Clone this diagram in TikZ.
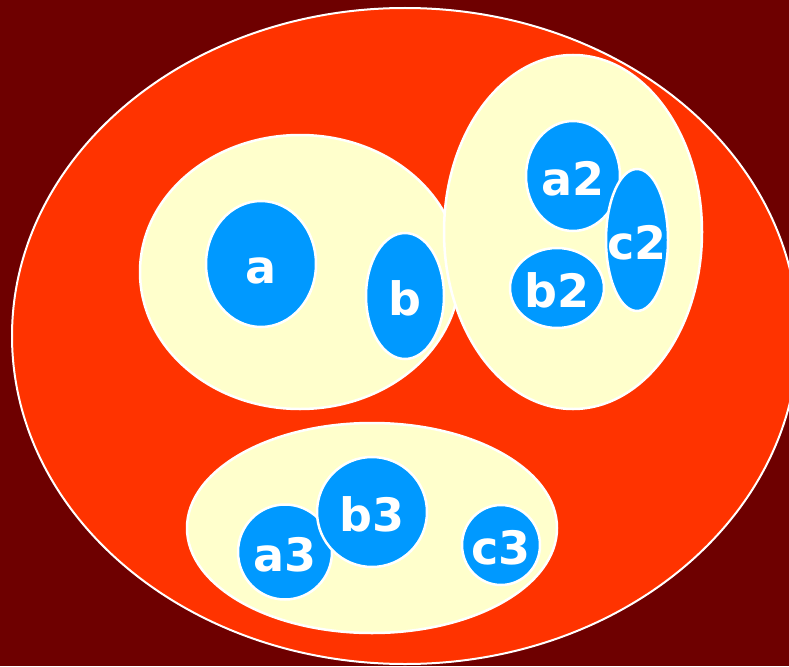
\documentclass[tikz,border=0pt]{standalone}
\usepackage{fontspec}
\setmainfont{DejaVu Sans}
\usetikzlibrary{shapes.geometric}
\definecolor{bgred}{HTML}{6E0000}
\definecolor{setred}{HTML}{FF3300}
\definecolor{cream}{HTML}{FFFFCC}
\definecolor{elblue}{HTML}{0099FF}
\tikzset{
  region/.style={ellipse, draw=white, line width=2.5pt, inner sep=0pt},
  outerset/.style={region, fill=setred, line width=2pt},
  subset/.style={region, fill=cream},
  elemtext/.style={text=white, inner sep=0pt, text height=39pt, text depth=0pt,
    font=\bfseries\fontsize{46}{52}\selectfont},
  element/.style={region, fill=elblue, label={[elemtext]center:#1}},
}
\begin{document}
\begin{tikzpicture}[x=1pt,y=-1pt]
\useasboundingbox (0,0) rectangle (789,666);
\fill[bgred] (0,0) rectangle (789,666);
\node[outerset, minimum width=786pt, minimum height=656pt] (U) at (405,336) {};
\node[subset, minimum width=320pt, minimum height=274pt] (A) at (300,272) {};
\node[subset, minimum width=258pt, minimum height=354pt] (B) at (573,232) {};
\node[subset, minimum width=370pt, minimum height=210pt] (C) at (372,528) {};
\node[element=a, minimum width=110pt, minimum height=126pt] (a) at (261,264) {};
\node[element=b, minimum width=78pt, minimum height=126pt] (b) at (405,296) {};
\node[element=a2, minimum width=94pt, minimum height=110pt] (a2) at (573,176) {};
\node[element=c2, minimum width=62pt, minimum height=142pt] (c2) at (637,240) {};
\node[element=b2, minimum width=94pt, minimum height=80pt] (b2) at (557,288) {};
\node[element=a3, minimum width=94pt, minimum height=95pt] (a3) at (285,552) {};
\node[element=b3, minimum width=110pt, minimum height=110pt] (b3) at (372,512) {};
\node[element=c3, minimum width=78pt, minimum height=80pt] (c3) at (501,545) {};
\end{tikzpicture}
\end{document}
